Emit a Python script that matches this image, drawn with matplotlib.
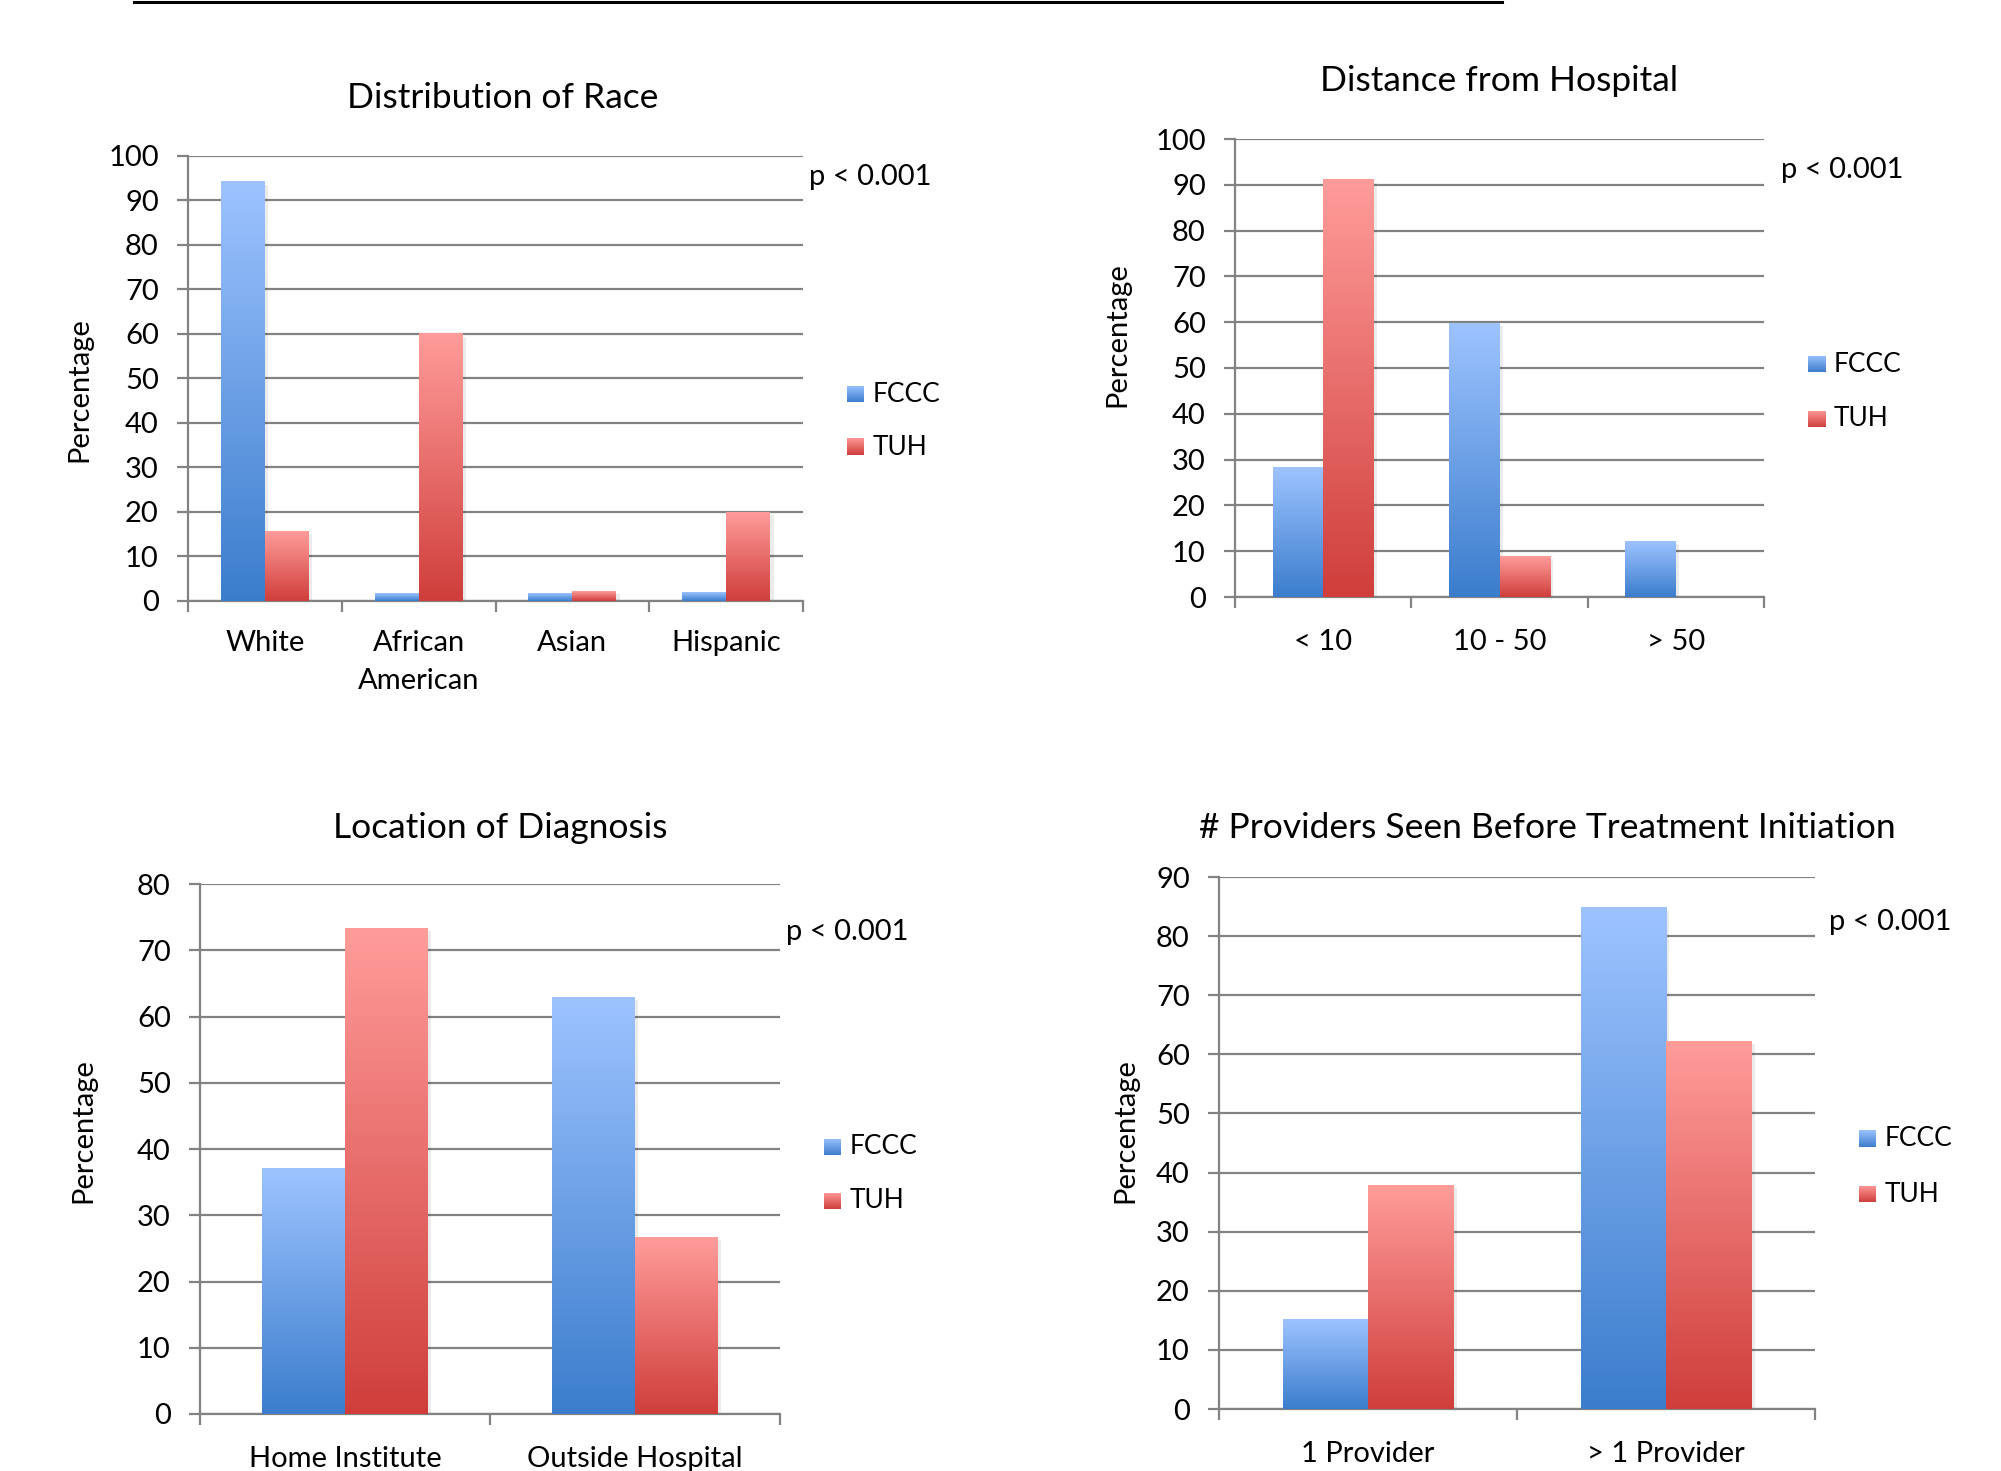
import numpy as np
import matplotlib
matplotlib.use("Agg")
import matplotlib.pyplot as plt
import matplotlib.patheffects as pe
from matplotlib.colors import to_rgb
from matplotlib.lines import Line2D

plt.rcParams["font.family"] = ["Lato", "DejaVu Sans"]

# ---- data ----
race_cats = ["White", "African\nAmerican", "Asian", "Hispanic"]
race_fccc = [94.2, 1.6, 1.6, 2.0]
race_tuh = [15.7, 60.0, 2.2, 20.0]

dist_cats = ["< 10", "10 - 50", "> 50"]
dist_fccc = [28.3, 59.7, 12.1]
dist_tuh = [91.1, 8.9, 0.0]

loc_cats = ["Home Institute", "Outside Hospital"]
loc_fccc = [37.1, 62.9]
loc_tuh = [73.3, 26.7]

prov_cats = ["1 Provider", "> 1 Provider"]
prov_fccc = [15.2, 84.8]
prov_tuh = [37.8, 62.2]

series_names = ["FCCC", "TUH"]
p_label = "p < 0.001"

# ---- style ----
BLUE = ("#9dc3ff", "#3b7dcc")   # top, bottom of gradient
RED = ("#ff9c9a", "#cf3e3b")
GRID = "#828282"
FS = 21

W, H = 2001, 1471
fig = plt.figure(figsize=(W / 100, H / 100), dpi=100)


def px_axes(left, top, right, bottom):
    return fig.add_axes([left / W, 1 - bottom / H, (right - left) / W, (bottom - top) / H])


def gradient(top, bottom):
    t = np.linspace(0, 1, 256)[:, None, None]
    a = np.array(to_rgb(top))[None, None, :]
    b = np.array(to_rgb(bottom))[None, None, :]
    return a * (1 - t) + b * t


def fill_bars(ax, bars, colors):
    img = gradient(*colors)
    for b in bars:
        x0, h, w = b.get_x(), b.get_height(), b.get_width()
        if h <= 0:
            continue
        ax.imshow(img, extent=(x0, x0 + w, 0, h), aspect="auto",
                  interpolation="bilinear", zorder=3)


def legend_key(x, y, colors, label):
    sq = 17
    kax = fig.add_axes([x / W, 1 - (y + sq / 2) / H, sq / W, sq / H])
    kax.imshow(gradient(*colors), aspect="auto", extent=(0, 1, 0, 1))
    kax.axis("off")
    fig.text((x + sq + 9) / W, 1 - y / H, label, fontsize=19, va="center", ha="left")


def panel(box, cats, fccc, tuh, ymax, step, title, title_xy, ylab_y, ylab_x,
          p_xy, leg_x, leg_ys, tick_pad=23):
    ax = px_axes(*box)
    x = np.arange(len(cats))
    w = 0.2857
    shadow = [pe.SimplePatchShadow(offset=(2.5, -2), shadow_rgbFace="black", alpha=0.08), pe.Normal()]
    b1 = ax.bar(x - w / 2, fccc, w, color=BLUE[1], zorder=2, path_effects=shadow, lw=0)
    b2 = ax.bar(x + w / 2, tuh, w, color=RED[1], zorder=2, path_effects=shadow, lw=0)
    fill_bars(ax, b1, BLUE)
    fill_bars(ax, b2, RED)

    ax.set_xlim(-0.5, len(cats) - 0.5)
    ax.set_ylim(0, ymax)
    ax.set_yticks(np.arange(0, ymax + 1, step))
    ax.grid(axis="y", color=GRID, lw=1.6)
    ax.set_axisbelow(True)
    for s in ("top", "right"):
        ax.spines[s].set_visible(False)
    for s in ("left", "bottom"):
        ax.spines[s].set_color(GRID)
        ax.spines[s].set_linewidth(1.6)

    # category boundaries get the tick marks, centres get the labels
    ax.set_xticks(np.arange(len(cats) + 1) - 0.5)
    ax.set_xticklabels([])
    ax.set_xticks(x, minor=True)
    ax.set_xticklabels(cats, minor=True, fontsize=FS, linespacing=1.55)
    ax.tick_params(axis="x", which="major", length=8, width=1.6, color=GRID)
    ax.tick_params(axis="x", which="minor", length=0, pad=tick_pad)
    ax.tick_params(axis="y", length=8, width=1.6, color=GRID, labelsize=FS, pad=13)

    ax.set_ylabel("Percentage", fontsize=FS)
    ax.yaxis.set_label_coords(ylab_x, ylab_y)

    fig.text(title_xy[0] / W, 1 - title_xy[1] / H, title, fontsize=25.5, ha="center", va="center")
    fig.text(p_xy[0] / W, 1 - p_xy[1] / H, p_label, fontsize=FS, ha="left", va="center")
    legend_key(leg_x, leg_ys[0], BLUE, series_names[0])
    legend_key(leg_x, leg_ys[1], RED, series_names[1])
    return ax


panel((188, 156, 803, 601), race_cats, race_fccc, race_tuh, 100, 10,
      "Distribution of Race", (503, 98), 0.476, -0.156,
      (809, 177), 847, (394, 447), tick_pad=21)

panel((1235, 139, 1764, 597), dist_cats, dist_fccc, dist_tuh, 100, 10,
      "Distance from Hospital", (1499, 81), 0.574, -0.197,
      (1781, 170), 1808, (364, 419))

panel((200, 884, 780, 1414), loc_cats, loc_fccc, loc_tuh, 80, 10,
      "Location of Diagnosis", (500, 828), 0.535, -0.178,
      (786, 932), 824, (1147, 1201))

panel((1219, 877, 1815, 1409), prov_cats, prov_fccc, prov_tuh, 90, 10,
      "# Providers Seen Before Treatment Initiation", (1547, 828), 0.523, -0.1355,
      (1829, 922), 1859, (1138, 1194))

# rule across the top edge
fig.add_artist(Line2D([134 / W, 1502 / W], [1 - 1.5 / H, 1 - 1.5 / H], color="black", lw=2.2))

fig.savefig("out.png", dpi=100, facecolor="white")
